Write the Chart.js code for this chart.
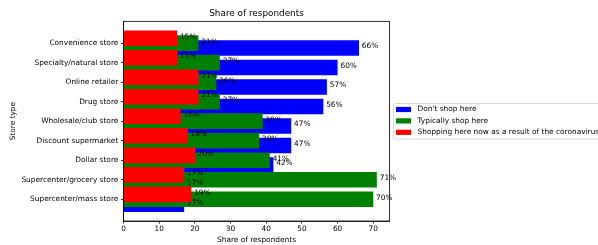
<!DOCTYPE html>
<html>
<head>
<meta charset="utf-8">
<script src="https://cdn.jsdelivr.net/npm/chart.js@4/dist/chart.umd.min.js"></script>
<style>
body { margin: 0; background: #fff; }
</style>
</head>
<body>
<canvas id="bar-chart" width="598" height="245"></canvas>
<script>
// data
stores = ['Convenience store', 'Specialty/natural store', 'Online retailer', 'Drug store',
    'Wholesale/club store', 'Discount supermarket', 'Dollar store',
    'Supercenter/grocery store', 'Supercenter/mass store']
dontShop = [66, 60, 57, 56, 47, 47, 42, 17, 17]
typicallyShop = [21, 27, 26, 27, 39, 38, 41, 71, 70]
shoppingNow = [15, 15, 21, 21, 16, 18, 20, 17, 19]
seriesNames = ["Don't shop here", 'Typically shop here', 'Shopping here now as a result of the coronavirus']
xTicks = [0, 10, 20, 30, 40, 50, 60, 70]

var FONT = 'DejaVu Sans'

// bar i of a series sits at index i shifted by a quarter of a row
function toPoints(values, shift) {
    return values.map(function (v, i) { return { x: v, y: i + shift } })
}

var frameAndLabels = {
    id: 'frameAndLabels',
    afterDatasetsDraw: function (chart) {
        var ctx = chart.ctx
        var xs = chart.scales.x
        ctx.save()
        ctx.fillStyle = '#000'
        ctx.font = '7.4px "' + FONT + '"'
        ctx.textBaseline = 'middle'
        ctx.textAlign = 'left'
        chart.data.datasets.forEach(function (ds, d) {
            var meta = chart.getDatasetMeta(d)
            meta.data.forEach(function (bar, i) {
                var v = ds.data[i].x
                ctx.fillText(v + '%', xs.getPixelForValue(v + 0.8), bar.y - 1.5)
            })
        })
        ctx.restore()
    },
    afterDraw: function (chart) {
        var ctx = chart.ctx
        var a = chart.chartArea
        ctx.save()
        ctx.strokeStyle = '#000'
        ctx.lineWidth = 0.8
        ctx.strokeRect(a.left, a.top, a.right - a.left, a.bottom - a.top)

        // legend placed outside the axes, cut off by the canvas edge
        var lx = 393.5, ly = 103.5, lh = 11.4
        ctx.fillStyle = 'rgba(255,255,255,0.8)'
        ctx.strokeStyle = '#d0d0d0'
        ctx.lineWidth = 0.8
        ctx.beginPath()
        ctx.roundRect(lx, ly, 260, 35.5, 2)
        ctx.fill()
        ctx.stroke()
        ctx.font = '7.4px "' + FONT + '"'
        ctx.textBaseline = 'middle'
        chart.data.datasets.forEach(function (ds, d) {
            var cy = ly + 6 + d * lh
            ctx.fillStyle = ds.backgroundColor
            ctx.fillRect(lx + 2.5, cy - 2.6, 15, 5.2)
            ctx.fillStyle = '#000'
            ctx.fillText(ds.label, lx + 24, cy)
        })
        ctx.restore()
    }
}

new Chart(document.getElementById('bar-chart'), {
    type: 'bar',
    data: {
        datasets: [{
            label: seriesNames[0],
            data: toPoints(dontShop, 0.25),
            backgroundColor: '#0000ff',
            order: 3
        }, {
            label: seriesNames[1],
            data: toPoints(typicallyShop, 0),
            backgroundColor: '#008000',
            order: 2
        }, {
            label: seriesNames[2],
            data: toPoints(shoppingNow, -0.25),
            backgroundColor: '#ff0000',
            order: 1
        }]
    },
    options: {
        indexAxis: 'y',
        responsive: false,
        animation: false,
        datasets: {
            bar: { grouped: false, categoryPercentage: 1, barPercentage: 3.2 }
        },
        layout: { padding: { left: 0, right: 208.5, top: 0, bottom: 0 } },
        plugins: {
            legend: { display: false },
            tooltip: { enabled: false },
            title: {
                display: true,
                text: 'Share of respondents',
                fullSize: false,
                color: '#000',
                font: { family: FONT, size: 8.85, weight: 'normal' },
                padding: { top: 8.7, bottom: 2.0 }
            }
        },
        scales: {
            x: {
                type: 'linear',
                min: 0,
                max: 74.55,
                afterFit: function (s) { s.height = 24 },
                afterBuildTicks: function (s) {
                    s.ticks = xTicks.map(function (v) { return { value: v } })
                },
                grid: { drawOnChartArea: false, drawTicks: true, tickLength: 2.6, tickColor: '#000', tickWidth: 0.8 },
                border: { display: true, color: '#000', width: 0.8 },
                ticks: { color: '#000', padding: 1, font: { family: FONT, size: 7.4 }, maxRotation: 0 },
                title: {
                    display: true,
                    text: 'Share of respondents',
                    color: '#000',
                    font: { family: FONT, size: 7.4 },
                    padding: { top: 0, bottom: 0.8 }
                }
            },
            y: {
                type: 'linear',
                reverse: true,
                offset: false,
                min: -1.115,
                max: 9.115,
                afterFit: function (s) { s.width = 123.5 },
                afterBuildTicks: function (s) {
                    s.ticks = stores.map(function (n, i) { return { value: i } })
                },
                grid: { offset: false, drawOnChartArea: false, drawTicks: true, tickLength: 2.6, tickColor: '#000', tickWidth: 0.8 },
                border: { display: true, color: '#000', width: 0.8 },
                ticks: {
                    color: '#000',
                    padding: 2.6,
                    autoSkip: false,
                    font: { family: FONT, size: 7.4 },
                    callback: function (v) { return stores[v] }
                },
                title: {
                    display: true,
                    text: 'Store type',
                    color: '#000',
                    font: { family: FONT, size: 7.4 },
                    padding: { top: 8.5, bottom: 0 }
                }
            }
        }
    },
    plugins: [frameAndLabels]
});
</script>
</body>
</html>
